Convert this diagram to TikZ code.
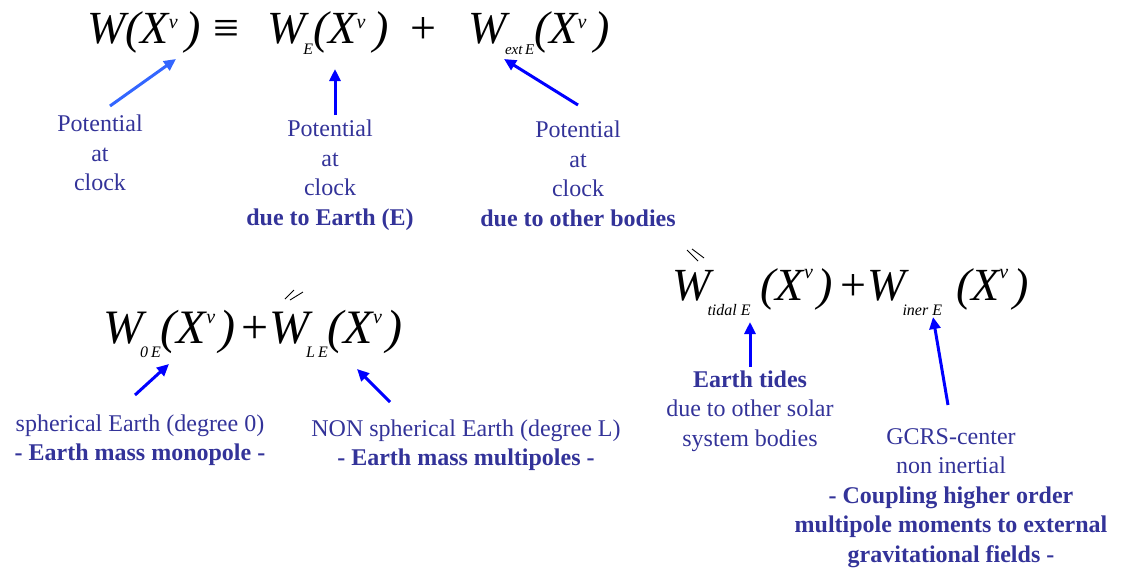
\documentclass[tikz,border=0pt]{standalone}
\usepackage{fontspec}
\setmainfont{Liberation Serif}
\usetikzlibrary{arrows.meta}
\definecolor{lab}{HTML}{333399}
\definecolor{arrA}{HTML}{3366FF}
\definecolor{arrB}{HTML}{0000FF}
\newcommand{\nuup}[2]{\raisebox{#1}{\fontsize{#2}{#2}\selectfont ν}}
\newcommand{\lowsub}[3]{\raisebox{-#1}{\fontsize{#2}{#2}\selectfont #3}}
\tikzset{
  eqn/.style={inner sep=0pt, anchor=base west, text=black, font=\itshape},
  lbl/.style={inner sep=0pt, align=center, text=lab, font=\fontsize{24}{29.5}\selectfont},
  arr/.style={line width=3pt, draw=arrB, -{Triangle[length=12pt,width=11pt]}},
  arrl/.style={arr, draw=arrA},
  acc/.style={line width=0.9pt, draw=black}
}
\begin{document}
\begin{tikzpicture}[x=1pt,y=-1pt]
\useasboundingbox (0,0) rectangle (1121,571);
% equation 1
\node[eqn, font=\fontsize{46}{46}\selectfont\itshape] (eq1) at (87,43)
  {W(X\nuup{15pt}{20}\hspace{8pt})\hspace{12pt}\textup{≡}\hspace{28pt}W\kern-2pt\lowsub{11pt}{16}{E}(X\nuup{15pt}{20}\hspace{8pt})\hspace{22pt}\textup{+}\hspace{32pt}W\kern-2pt\lowsub{11pt}{15}{ext\,E}(X\nuup{15pt}{20}\hspace{8pt})};
% equation 2
\node[eqn, font=\fontsize{48}{48}\selectfont\itshape] (eq2) at (103,343)
  {W\kern-3pt\lowsub{14pt}{16}{0\kern3pt E}(X\nuup{20pt}{20}\hspace{4pt})\hspace{6pt}\textup{+}\hspace{1pt}W\kern-3pt\lowsub{14pt}{16}{L\kern3pt E}(X\nuup{20pt}{20}\hspace{4pt})};
% equation 3
\node[eqn, font=\fontsize{46}{46}\selectfont\itshape] (eq3) at (672,300)
  {W\kern-3pt\lowsub{15pt}{16}{tidal E}\hspace{10pt}(X\nuup{22pt}{20}\hspace{5pt})\hspace{7pt}\textup{+}\hspace{1pt}W\kern-3pt\lowsub{15pt}{16}{iner E}\hspace{14pt}(X\nuup{22pt}{20}\hspace{5pt})};
% accents
\coordinate (p1a) at (285,299); \coordinate (p1b) at (294,290);
\coordinate (p2a) at (290,300); \coordinate (p2b) at (303,292);
\draw[acc] (p1a) -- (p1b);
\draw[acc] (p2a) -- (p2b);
\coordinate (q1a) at (687,250); \coordinate (q1b) at (698,261);
\coordinate (q2a) at (692,249); \coordinate (q2b) at (704,258);
\draw[acc] (q1a) -- (q1b);
\draw[acc] (q2a) -- (q2b);
% labels
\node[lbl] (l1) at (100,153) {Potential\\at\\clock};
\node[lbl] (l2) at (330,175) {Potential\\at\\clock\\\textbf{due to Earth (E)}};
\node[lbl] (l3) at (578,174) {Potential\\at\\clock\\\textbf{due to other bodies}};
\node[lbl] (l4) at (140,440) {spherical Earth (degree 0)\\\textbf{- Earth mass monopole -}};
\node[lbl] (l5) at (466,445) {NON spherical Earth (degree L)\\\textbf{- Earth mass multipoles -}};
\node[lbl] (l6) at (750,411) {\textbf{Earth tides}\\due to other solar\\system bodies};
\node[lbl] (l7) at (951,498) {GCRS-center\\non inertial\\\textbf{- Coupling higher order}\\\textbf{multipole moments to external}\\\textbf{gravitational fields -}};
% arrow ends
\coordinate (a1s) at (110,106); \coordinate (a1e) at (176,59);
\coordinate (a2s) at (335,115); \coordinate (a2e) at (335,69);
\coordinate (a3s) at (578,105); \coordinate (a3e) at (504,59);
\coordinate (a4s) at (135,395); \coordinate (a4e) at (169,364);
\coordinate (a5s) at (390,402); \coordinate (a5e) at (357,369);
\coordinate (a6s) at (750,367); \coordinate (a6e) at (750,322);
\coordinate (a7s) at (948,405); \coordinate (a7e) at (933,317);
\draw[arrl] (a1s) -- (a1e);
\draw[arr] (a2s) -- (a2e);
\draw[arr] (a3s) -- (a3e);
\draw[arr] (a4s) -- (a4e);
\draw[arr] (a5s) -- (a5e);
\draw[arr] (a6s) -- (a6e);
\draw[arr] (a7s) -- (a7e);
\end{tikzpicture}
\end{document}
